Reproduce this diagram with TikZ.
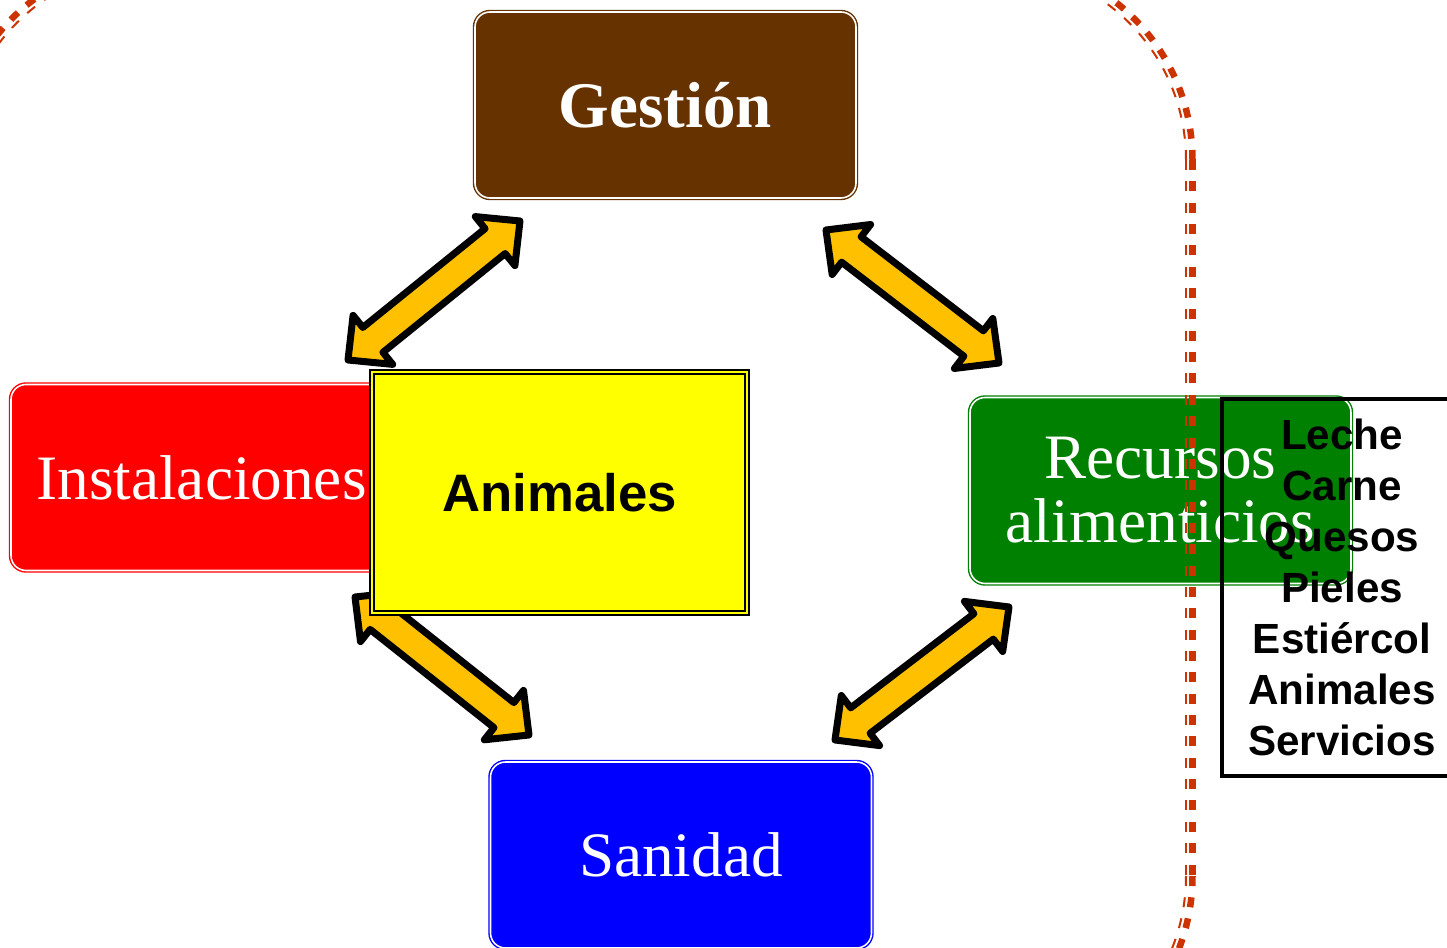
\documentclass[tikz,border=0pt]{standalone}
\usepackage{fontspec}
\usepackage{xcolor}
\usepackage{tikz}
\usetikzlibrary{calc}
\setmainfont{Liberation Serif}
\setsansfont{Liberation Sans}

\definecolor{gestbrown}{RGB}{102,51,0}
\definecolor{instred}{RGB}{255,0,0}
\definecolor{recgreen}{RGB}{0,128,0}
\definecolor{sanblue}{RGB}{0,0,255}
\definecolor{animyellow}{RGB}{255,255,0}
\definecolor{arrowfill}{RGB}{255,192,0}
\definecolor{framered}{RGB}{204,51,0}

\begin{document}
\begin{tikzpicture}[
  catbox/.style={draw=#1, fill=#1, double=white, double distance=0.9pt, line width=0.8pt,
    rounded corners=0.3cm, text=white, minimum width=7.62cm, minimum height=3.72cm,
    inner sep=0, outer sep=0, align=center, font=\fontsize{36}{36.4}\selectfont},
  centerbox/.style={draw=black, fill=animyellow, double=animyellow, double distance=1pt, line width=1.2pt,
    minimum width=7.5cm, minimum height=4.82cm, inner sep=0, outer sep=0,
    font=\sffamily\bfseries\fontsize{30}{36}\selectfont},
  listbox/.style={draw=black, line width=2.4pt, minimum width=4.8cm, minimum height=7.54cm,
    inner sep=0, outer sep=0, align=center, font=\sffamily\bfseries\fontsize{24}{29}\selectfont},
  bigarrow/.style={draw=black, fill=arrowfill, line width=0.14cm, line join=round},
  frameline/.style={draw=framered, dash pattern=on 0.2cm off 0.227cm}
]
\useasboundingbox (0,0) rectangle (28.94,18.96);

\node (gestion) [catbox=gestbrown] at (13.31,16.86) {\bfseries\fontsize{37}{37}\selectfont Gestión};
\node (inst) [catbox=instred] at (4.03,9.41) {Instalaciones};
\node (recursos) [catbox=recgreen] at (23.21,9.15) {Recursos\\alimenticios};
\node (sanidad) [catbox=sanblue] at (13.62,1.86) {Sanidad};

% Arrow ends next to the boxes
\coordinate (ga) at ([shift={(0.90,-0.46)}]gestion.south west);
\coordinate (ia) at ([shift={(-0.88,0.49)}]inst.north east);
\coordinate (gr) at ([shift={(-0.60,-0.64)}]gestion.south east);
\coordinate (ra) at ([shift={(0.58,0.69)}]recursos.north west);
\coordinate (is) at ([shift={(-0.74,-0.53)}]inst.south east);
\coordinate (sa) at ([shift={(0.77,0.54)}]sanidad.north west);
\coordinate (sr) at ([shift={(-0.73,0.44)}]sanidad.north east);
\coordinate (rs) at ([shift={(0.78,-0.47)}]recursos.south west);

% Double block arrows
\foreach \a/\b in {ia/ga, gr/ra, is/sa, sr/rs} {
  \path ($(\a)!0.64cm!(\b)$) coordinate (h\a) ($(\b)!0.64cm!(\a)$) coordinate (h\b);
  \draw [bigarrow] (\a) -- ($(h\a)!0.63cm!90:(\b)$) -- ($(h\a)!0.32cm!90:(\b)$)
    -- ($(h\b)!0.32cm!-90:(\a)$) -- ($(h\b)!0.63cm!-90:(\a)$) -- (\b)
    -- ($(h\b)!0.63cm!90:(\a)$) -- ($(h\b)!0.32cm!90:(\a)$)
    -- ($(h\a)!0.32cm!-90:(\b)$) -- ($(h\a)!0.63cm!-90:(\b)$) -- cycle;
}

\node (animales) [centerbox] at (11.19,9.11) {Animales};

% Dashed frame, thick and thin line
\foreach \r/\w in {4.01/0.13cm, 3.88/0.04cm} {
  \draw [frameline, line width=\w] (3.08,{15.76+\r}) arc[start angle=90, end angle=180, radius=\r];
  \draw [frameline, line width=\w] ({19.84+\r},15.76) arc[start angle=0, end angle=90, radius=\r];
  \draw [frameline, line width=\w] ({19.84+\r},15.76) -- ({19.84+\r},1.44);
  \draw [frameline, line width=\w] ({19.84+\r},1.44) arc[start angle=0, end angle=-90, radius=\r];
}

\node (productos) [listbox] at (26.84,7.21) {Leche\\Carne\\Quesos\\Pieles\\Estiércol\\Animales\\Servicios};
\end{tikzpicture}
\end{document}
